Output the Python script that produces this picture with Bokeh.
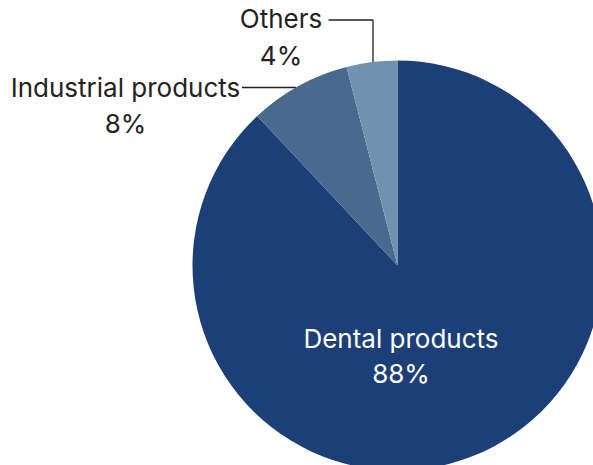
import math
from bokeh.plotting import figure
from bokeh.models import ColumnDataSource, Range1d
from bokeh.core.properties import value
from bokeh.embed import file_html
from bokeh.resources import INLINE

categories = ["Dental products", "Industrial products", "Others"]
shares = [88, 8, 4]
pct_labels = ["88%", "8%", "4%"]
colors = ["#1d3f77", "#476a8e", "#7091b0"]

W, H = 593, 465
FONT = "Inter"
FS = "26px"

# pie geometry in pixel-like data units (y up), screen center (397, 265)
cx, cy, r = 397, H - 265, 205

total = sum(shares)
starts, ends = [], []
a = math.pi / 2
for s in shares:
    starts.append(a)
    a = a - 2 * math.pi * s / total
    ends.append(a)

src = ColumnDataSource(dict(cat=categories, share=shares, start=starts, end=ends, color=colors))

p = figure(width=W, height=H, output_backend="svg", toolbar_location=None,
           x_range=Range1d(0, W), y_range=Range1d(0, H), min_border=0)
p.axis.visible = False
p.grid.visible = False
p.outline_line_color = None
p.background_fill_color = "white"

p.wedge(x=cx, y=cy, radius=r, start_angle="start", end_angle="end", direction="clock",
        fill_color="color", line_color=None, source=src)

def Y(py):
    return H - py

def X(px):
    return px

# label positions (screen px) : center x, name baseline, pct baseline
TEXT_SHIFT = 10
lab = {
    "Dental products": (400.5, 348, 383, "white"),
    "Industrial products": (125, 97, 133, "#222222"),
    "Others": (280.5, 28, 65, "#222222"),
}
for cat, pct in zip(categories, pct_labels):
    x0, b1, b2, col = lab[cat]
    p.text(x=[X(x0)], y=[Y(b1 - TEXT_SHIFT)], text=[cat], text_font=value(FONT), text_font_size=FS,
           text_align="center", text_baseline="alphabetic", text_color=col)
    p.text(x=[X(x0)], y=[Y(b2 - TEXT_SHIFT)], text=[pct], text_font=value(FONT), text_font_size=FS,
           text_align="center", text_baseline="alphabetic", text_color=col)

# leader lines, ending on the pie edge
def edge_y_at_x(x):
    return cy + math.sqrt(r * r - (x - cx) ** 2)

def edge_x_at_y(y):
    return cx - math.sqrt(r * r - (y - cy) ** 2)

ox = X(372.5)
p.line(x=[X(328), ox, ox], y=[Y(19.5), Y(19.5), edge_y_at_x(ox)], line_color="#222222", line_width=1.3)
iy = Y(87)
p.line(x=[X(241.5), edge_x_at_y(iy)], y=[iy, iy], line_color="#222222", line_width=1.3)

open("out.html", "w").write(file_html(p, INLINE))
